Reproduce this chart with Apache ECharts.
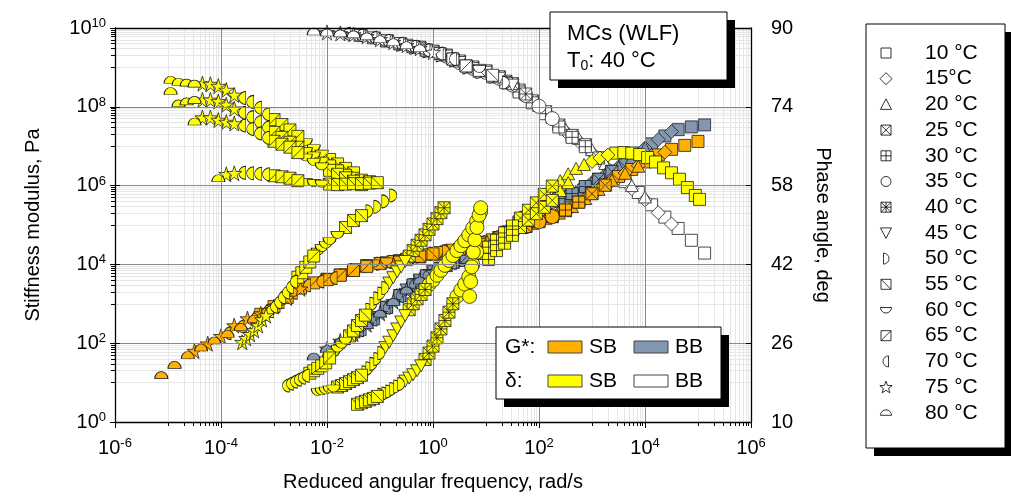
<!DOCTYPE html>
<html>
<head>
<meta charset="utf-8">
<script src="https://cdn.jsdelivr.net/npm/echarts@6/dist/echarts.min.js"></script>
<style>html,body{margin:0;padding:0;background:#fff}#c{width:1011px;height:497px}</style>
</head>
<body>
<div id="c"></div>
<script>
// ---------------- DATA ----------------
const temps = ['10 °C','15°C','20 °C','25 °C','30 °C','35 °C','40 °C','45 °C','50 °C','55 °C','60 °C','65 °C','70 °C','75 °C','80 °C'];

// measured angular frequencies of each sweep (rad/s)
const omega = [0.562, 1, 1.78, 3.16, 5.62, 10, 17.8, 31.6, 56.2];
// shift factors aT (T0 = 40 °C), one per temperature
const aT_SB = [1780, 422, 133, 31.6, 10, 3.16, 1, 0.237, 0.0562, 0.0178, 4.22e-3, 1.0e-3, 2.37e-4, 5.62e-5, 1.33e-5];
const aT_BB = [2370, 562, 178, 42.2, 13.3, 3.16, 1, 0.562, 0.422, 0.237, 0.133, 0.075, 0.0422, 0.0178, 0.01];

// |G*| of SB binder (Pa), one row per temperature, one value per omega
const gSB = [
  [631000,1.05e6,1.7e6,2.57e6,3.98e6,6.03e6,8.32e6,1.05e7,1.32e7],
  [200000,295000,470000,800000,1.35e6,2.1e6,3.2e6,4.8e6,7.0e6],
  [110000,148000,200000,295000,470000,800000,1.36e6,2.05e6,3.1e6],
  [48000,66000,93000,121000,162000,230000,380000,620000,1.02e6],
  [28500,36500,48000,66000,93000,125000,168000,240000,380000],
  [21500,24500,28500,36500,48000,65000,90000,121000,163000],
  [15500,18200,20900,24000,27500,35500,46800,64600,91200],
  [11000,12500,14500,17500,20000,23000,26500,32500,42000],
  [7200,9100,10400,11600,13400,16000,18800,21500,24500],
  [4200,5400,7200,9300,10600,11800,13500,16000,18500],
  [2000,3000,3800,4800,6500,8500,10500,11800,13200],
  [540,850,1450,2500,3400,4100,5300,7000,8900],
  [180,265,420,680,1120,1900,2950,3700,4500],
  [63,97,150,280,420,560,850,1400,2400],
  [15.5,28.2,50,78,117,174,257,417,661]
];
// |G*| of BB binder (Pa)
const gBB = [
  [1.45e6,2.29e6,3.72e6,6.61e6,1.15e7,1.82e7,2.63e7,3.09e7,3.47e7],
  [540000,760000,1.2e6,1.86e6,2.95e6,5.0e6,9.0e6,1.48e7,2.35e7],
  [285000,400000,540000,760000,1.2e6,1.85e6,2.95e6,5.0e6,9.0e6],
  [63100,117000,209000,331000,457000,617000,933000,1.45e6,2.29e6],
  [22000,37000,65000,120000,215000,340000,470000,630000,950000],
  [9600,13000,18000,27500,48000,87000,160000,280000,395000],
  [3890,6310,9330,12600,17400,26900,46800,85100,158000],
  [2250,4000,6500,9600,13000,18000,27500,48000,87000],
  [1620,3000,5100,7900,11200,15200,22000,36500,65000],
  [820,1620,3000,5100,7900,11200,15200,22000,36500],
  [380,770,1550,2900,4900,7600,10700,14500,21000],
  [220,410,810,1600,3000,5100,7900,11200,15200],
  [135,214,398,794,1580,2950,5010,7760,10960],
  [72,114,170,295,575,1150,2230,3950,6400],
  [46,71,112,166,288,562,1120,2190,3890]
];
// phase angle of BB binder (deg)
const dBB = [
  [63.6,60.9,58.8,56.6,54.1,51.6,49.3,46.9,44.3],
  [69.0,67.0,64.7,62.0,59.6,57.4,55.1,52.5,50.2],
  [74.3,71.9,69.5,67.6,65.3,62.5,60.1,58.0,55.7],
  [79.2,77.4,75.2,73.0,70.3,68.2,66.3,63.6,60.9],
  [81.2,80.1,78.9,77.0,74.8,72.6,69.9,67.8,65.9],
  [84.3,83.0,81.8,81.0,79.8,78.4,76.3,74.1,71.6],
  [86.1,85.3,84.5,83.3,82.1,81.3,80.1,78.7,76.6],
  [86.5,85.9,85.1,84.3,83.0,81.8,81.0,79.8,78.4],
  [86.6,86.0,85.3,84.5,83.4,82.0,81.1,80.1,78.9],
  [87.4,86.8,86.2,85.5,84.8,83.7,82.3,81.4,80.4],
  [88.2,87.6,87.0,86.4,85.7,85.0,83.9,82.6,81.7],
  [88.5,88.0,87.4,86.8,86.2,85.5,84.8,83.7,82.3],
  [88.8,88.5,88.0,87.4,86.8,86.2,85.5,84.8,83.7],
  [89.1,88.9,88.7,88.3,87.7,87.1,86.5,85.9,85.1],
  [89.3,89.1,88.9,88.7,88.3,87.7,87.1,86.5,85.9]
];

// phase angle of SB binder: per temperature, [reduced frequency rad/s, deg]
const dSB = [
  // 10 °C
  [[2820,64.6],[3980,64.7],[5620,64.6],[7940,64.3],[11200,63.7],[15800,62.8],[22400,61.6],[31600,60.6],[44700,59.3],[63100,57.6],[89100,56.0],[107000,55.2]],
  // 15 °C
  [[1000,62.9],[1410,63.6],[2000,64.2]],
  // 20 °C
  [[251,59.0],[355,60.4],[501,61.5],[708,62.3],[251,57.0],[355,58.6]],
  // 25 °C
  [[44.7,51.4],[63.1,53.0],[89.1,54.5],[126,56.2],[178,57.9],[44.7,49.5],[63.1,51.0],[89.1,52.3],[126,53.6],[178,55.0]],
  // 30 °C
  [[7.94,44.2],[11.2,45.5],[15.8,46.9],[22.4,48.4],[31.6,49.8],[11.2,43.0],[15.8,44.8],[22.4,46.3],[31.6,47.9]],
  // 35 °C
  [[0.8414,37.9],[1.0,38.8],[1.189,39.8],[1.41,40.8],[1.679,41.8],[2.0,42.8],[2.371,43.8],[2.82,44.8],[3.35,45.8],[3.98,46.8],[4.732,48.0],[5.62,49.4],[6.683,50.8],[7.94,52.7],
   [2.82,35.5],[3.35,36.8],[3.98,38.0],[4.732,39.5],[5.62,42.0],[6.683,44.5],
   [4.9,35.5],[5.13,38.5],[5.37,41.5],[5.75,44.5],[6.17,47.0],[6.76,49.5],[7.41,52.0],[7.94,53.5]],
  // 40 °C
  [[0.355,43.7],[0.4217,44.8],[0.501,45.9],[0.5957,46.9],[0.708,48.0],[0.8414,49.1],[1.0,50.2],[1.189,51.3],[1.41,52.5],[1.62,53.5],
   [0.355,32.8],[0.4217,34.0],[0.501,35.0],[0.5957,35.9],[0.708,36.9],
   [0.708,22.7],[0.8414,24.0],[1.0,25.4],[1.189,27.1],[1.41,28.9],[1.679,30.6],[2.0,32.3],[2.371,34.0]],
  // 45 °C
  [[0.1496,38.2],[0.178,39.3],[0.2113,40.5],[0.251,41.5],[0.2985,42.6],
   [0.126,25.1],[0.1496,26.2],[0.178,27.5],[0.2113,28.9],[0.251,30.3],[0.2985,31.6],
   [0.2985,18.3],[0.355,18.9],[0.4217,19.6],[0.501,20.4],[0.5957,21.4]],
  // 50 °C
  [[0.0631,52.8],[0.0891,53.7],[0.126,54.8],[0.178,56.0],
   [0.0631,32.8],[0.07499,34.0],[0.0891,35.1],[0.1059,36.1],[0.126,37.2],
   [0.05309,20.1],[0.0631,20.9],[0.07499,21.8],[0.0891,22.8],[0.1059,24.0],
   [0.1059,15.5],[0.126,15.8],[0.1496,16.2],[0.178,16.7],[0.2113,17.2],[0.251,17.7]],
  // 55 °C
  [[0.0112,63.3],[0.0158,62.4],[0.0224,61.5],[0.0316,60.6],
   [0.0112,62.0],[0.0158,61.0],[0.0224,60.1],[0.0316,59.5],[0.0447,59.1],[0.0631,58.8],
   [0.0112,61.1],[0.0158,60.3],[0.0224,59.6],[0.0316,58.9],[0.0447,58.2],
   [0.0112,58.3],[0.0158,58.2],[0.0224,58.3],[0.0316,58.4],[0.0447,58.4],[0.0631,58.5],[0.0891,58.6],
   [0.0224,49.5],[0.0316,50.9],[0.0447,51.9],
   [0.02661,27.5],[0.0316,28.5],[0.03758,29.6],[0.0447,30.6],[0.05309,31.7],
   [0.0158,17.1],[0.01884,17.4],[0.0224,17.8],[0.02661,18.2],[0.0316,18.6],[0.03758,19.0],[0.0447,19.5],
   [0.03758,13.6],[0.0447,13.9],[0.05309,14.2],[0.0631,14.5],[0.07499,14.8],[0.0891,15.2]],
  // 60 °C
  [[3.98e-3,66.8],[5.62e-3,65.6],[7.94e-3,64.5],
   [3.98e-3,65.0],[5.62e-3,64.1],[7.94e-3,63.0],
   [3.98e-3,63.7],[5.62e-3,62.8],[7.94e-3,61.9],
   [3.98e-3,58.7],[5.62e-3,58.5],[7.94e-3,58.4],
   [6.683e-3,44.6],[7.94e-3,45.3],[9.441e-3,46.0],[0.0112,46.7],[0.0158,48.0],
   [0.01334,24.0],[0.0158,24.9],[0.01884,25.7],[0.0224,26.5],
   [6.683e-3,16.1],[7.94e-3,16.2],[9.441e-3,16.4],[0.0112,16.6],[0.01334,16.8]],
  // 65 °C
  [[1.0e-3,71.4],[1.41e-3,70.4],[2.0e-3,69.3],[2.82e-3,68.0],
   [1.0e-3,68.8],[1.41e-3,67.8],[2.0e-3,66.8],[2.82e-3,65.8],
   [1.0e-3,67.0],[1.41e-3,66.4],[2.0e-3,65.8],[2.82e-3,64.7],
   [1.0e-3,60.0],[1.41e-3,59.8],[2.0e-3,59.5],[2.82e-3,59.0],
   [2.82e-3,39.4],[3.35e-3,40.3],[3.98e-3,41.4],[4.732e-3,42.5],[5.62e-3,43.7],
   [4.732e-3,19.9],[5.62e-3,20.4],[6.683e-3,20.9],[7.94e-3,21.4],[9.441e-3,22.0],[0.0112,23.0]],
  // 70 °C
  [[2.51e-4,75.8],[3.55e-4,75.0],[5.01e-4,73.8],[7.08e-4,72.5],
   [2.51e-4,72.8],[3.55e-4,71.9],[5.01e-4,70.9],[7.08e-4,69.8],
   [2.51e-4,70.2],[3.55e-4,69.5],[5.01e-4,68.6],[7.08e-4,67.7],
   [2.51e-4,60.6],[3.55e-4,60.5],[5.01e-4,60.4],[7.08e-4,60.3],
   [8.414e-4,32.5],[1.0e-3,33.4],[1.189e-3,34.3],[1.41e-3,35.3],[1.679e-3,36.3],[2.0e-3,37.4],[2.371e-3,38.5],
   [1.679e-3,17.4],[2.0e-3,17.8],[2.371e-3,18.2],[2.82e-3,18.6],[3.35e-3,19.0],[3.98e-3,19.4]],
  // 75 °C
  [[4.47e-5,78.7],[6.31e-5,78.6],[8.91e-5,78.2],[1.26e-4,77.4],[1.78e-4,76.4],
   [4.47e-5,75.4],[6.31e-5,75.4],[8.91e-5,75.1],[1.26e-4,74.4],[1.78e-4,73.6],
   [4.47e-5,71.8],[6.31e-5,71.8],[8.91e-5,71.3],[1.26e-4,70.9],[1.78e-4,70.6],
   [1.26e-4,60.3],[1.78e-4,60.5],
   [2.51e-4,26.2],[2.985e-4,27.0],[3.55e-4,27.8],[4.217e-4,28.6],[5.01e-4,29.6],[5.957e-4,30.8],[7.08e-4,31.6]],
  // 80 °C
  [[1.12e-5,79.5],[1.58e-5,79.1],[2.24e-5,78.9],[3.16e-5,78.7],[1.58e-5,74.7],[2.24e-5,75.1],[3.16e-5,75.4],[3.16e-5,71.0],[1.12e-5,77.2],[8.91e-5,59.5]]
];

// ---------------- STYLE ----------------
const FONT = '"Liberation Sans", Arial, sans-serif';
const COL = {gSB:'#FFB000', gBB:'#8497B0', dSB:'#FFFF00', dBB:'#FFFFFF'};
const P = {
  rect:'M0,0H10V10H0Z',
  diamond:'M5,0L10,5L5,10L0,5Z',
  triangle:'M5,0L10,10H0Z',
  sqX:'M0,0H10V10H0Z M0,0L10,10 M10,0L0,10',
  sqPlus:'M0,0H10V10H0Z M5,0V10 M0,5H10',
  circle:'M0,5A5,5,0,1,1,10,5A5,5,0,1,1,0,5Z',
  sqXPlus:'M0,0H10V10H0Z M0,0L10,10 M10,0L0,10 M5,0V10 M0,5H10',
  invTri:'M0,0H10L5,10Z',
  rightHalf:'M0,0A5,5,0,0,1,0,10Z',
  sqBack:'M0,0H10V10H0Z M0,0L10,10',
  bottomHalf:'M0,0H10A5,5,0,0,1,0,0Z',
  sqFwd:'M0,0H10V10H0Z M0,10L10,0',
  leftHalf:'M5,0A5,5,0,0,0,5,10Z',
  star:'M5,0L6.18,3.62L10,3.62L6.91,5.86L8.09,9.51L5,7.27L1.91,9.51L3.09,5.86L0,3.62L3.82,3.62Z',
  topHalf:'M0,5A5,5,0,0,1,10,5Z'
};
const symKeys = ['rect','diamond','triangle','sqX','sqPlus','circle','sqXPlus','invTri','rightHalf','sqBack','bottomHalf','sqFwd','leftHalf','star','topHalf'];
const symSize = [[12,12],[14,14],[13,12],[12,12],[12,12],[14,14],[12,12],[13,12],[7,13],[12,12],[13,7],[12,12],[7,13],[15,15],[13,7]];

const lg = v => Math.log10(v);
const series = [];
function addSeries(group, idx, data, yIdx) {
  series.push({
    type:'scatter', name: temps[idx] + ' ' + group, xAxisIndex:0, yAxisIndex:yIdx,
    data, symbol:'path://' + P[symKeys[idx]], symbolSize:symSize[idx],
    itemStyle:{color:COL[group], borderColor:'#1e1e1e', borderWidth:0.8, opacity:1},
    silent:true, animation:false, z:2
  });
}
temps.forEach((t,i)=> addSeries('dBB', i, omega.map((w,j)=>[lg(w*aT_BB[i]), dBB[i][j]]), 2));
temps.forEach((t,i)=> addSeries('gBB', i, omega.map((w,j)=>[lg(w*aT_BB[i]), lg(gBB[i][j])]), 0));
temps.forEach((t,i)=> addSeries('gSB', i, omega.map((w,j)=>[lg(w*aT_SB[i]), lg(gSB[i][j])]), 0));
temps.forEach((t,i)=> addSeries('dSB', i, dSB[i].map(p=>[lg(p[0]), p[1]]), 2));

const minorX = []; [-5,-3,-1,1,3,5].forEach(n=>{for(let k=1;k<=9;k++) minorX.push(n+Math.log10(k));});
const minorY = []; [1,3,5,7,9].forEach(n=>{for(let k=1;k<=9;k++) minorY.push(n+Math.log10(k));});

const rich = {
  b:{fontSize:20, fontFamily:FONT, color:'#000', lineHeight:22},
  s:{fontSize:13, fontFamily:FONT, color:'#000', lineHeight:12, verticalAlign:'top'}
};
const powFmt = v => '{b|10}{s|' + Math.round(v) + '}';
const MAJOR = '#8a8a8a', MINOR = '#e6e6e6';

// ---------------- GRAPHIC (legends, title box) ----------------
const graphic = [];
const LS = {fill:'#fff', stroke:'#000', lineWidth:0.8};
function legendSymbol(key, cx, cy) {
  const out = [];
  const sq = (s) => out.push({type:'rect', z:102, shape:{x:cx-s/2, y:cy-s/2, width:s, height:s}, style:LS});
  const ln = (x1,y1,x2,y2) => out.push({type:'line', z:103, shape:{x1:cx+x1,y1:cy+y1,x2:cx+x2,y2:cy+y2}, style:{stroke:'#000', lineWidth:0.8}});
  const poly = (pts) => out.push({type:'polygon', z:102, shape:{points:pts.map(p=>[cx+p[0], cy+p[1]])}, style:LS});
  const sec = (r, a0, a1, dx, dy) => out.push({type:'sector', z:102, shape:{cx:cx+dx, cy:cy+dy, r0:0, r, startAngle:a0, endAngle:a1, clockwise:true}, style:LS});
  const PI = Math.PI;
  switch (key) {
    case 'rect': sq(10); break;
    case 'diamond': poly([[0,-6],[6,0],[0,6],[-6,0]]); break;
    case 'triangle': poly([[0,-5.5],[5.5,5],[-5.5,5]]); break;
    case 'sqX': sq(10); ln(-5,-5,5,5); ln(5,-5,-5,5); break;
    case 'sqPlus': sq(10); ln(0,-5,0,5); ln(-5,0,5,0); break;
    case 'circle': out.push({type:'circle', z:102, shape:{cx, cy, r:5}, style:LS}); break;
    case 'sqXPlus': sq(10); ln(-5,-5,5,5); ln(5,-5,-5,5); ln(0,-5,0,5); ln(-5,0,5,0); break;
    case 'invTri': poly([[-5.5,-5],[5.5,-5],[0,5.5]]); break;
    case 'rightHalf': sec(5.5, -PI/2, PI/2, -2.5, 0); break;
    case 'sqBack': sq(10); ln(-5,-5,5,5); break;
    case 'bottomHalf': sec(5.5, 0, PI, 0, -2.5); break;
    case 'sqFwd': sq(10); ln(-5,5,5,-5); break;
    case 'leftHalf': sec(5.5, PI/2, 3*PI/2, 2.5, 0); break;
    case 'star': {
      const pts = [];
      for (let k=0;k<10;k++){ const r = k%2===0 ? 6.5 : 2.7; const a = -PI/2 + k*PI/5; pts.push([r*Math.cos(a), r*Math.sin(a)+0.5]); }
      poly(pts); break; }
    case 'topHalf': sec(5.5, PI, 2*PI, 0, 2.5); break;
  }
  return out;
}
// temperature legend
graphic.push({type:'rect', z:100, shape:{x:874,y:32,width:140,height:424}, style:{fill:'#000'}});
graphic.push({type:'rect', z:101, shape:{x:866,y:24,width:139,height:424}, style:{fill:'#fff', stroke:'#000', lineWidth:1}});
temps.forEach((t,i)=>{
  const cy = 53 + i*25.7;
  legendSymbol(symKeys[i], 886, cy).forEach(e=>graphic.push(e));
  graphic.push({type:'text', z:102, x:925, y:cy, style:{text:t, font:'21px ' + FONT, fill:'#000', textVerticalAlign:'middle'}});
});
// title box
graphic.push({type:'rect', z:100, shape:{x:558,y:20,width:177,height:68}, style:{fill:'#000'}});
graphic.push({type:'rect', z:101, shape:{x:550,y:12,width:177,height:68}, style:{fill:'#fff', stroke:'#000', lineWidth:1}});
graphic.push({type:'text', z:102, x:567, y:34, style:{text:'MCs (WLF)', font:'22px ' + FONT, fill:'#000', textVerticalAlign:'middle'}});
graphic.push({type:'text', z:102, x:567, y:61, style:{text:'{a|T}{s|0}{a|: 40 °C}', fill:'#000', textVerticalAlign:'middle',
  rich:{a:{fontSize:22, fontFamily:FONT, color:'#000', lineHeight:24, verticalAlign:'middle'}, s:{fontSize:14, fontFamily:FONT, color:'#000', lineHeight:12, verticalAlign:'bottom'}}}});
// group legend
graphic.push({type:'rect', z:100, shape:{x:504,y:335,width:225,height:72}, style:{fill:'#000'}});
graphic.push({type:'rect', z:101, shape:{x:496,y:327,width:225,height:72}, style:{fill:'#fff', stroke:'#000', lineWidth:1}});
const legRows = [
  {label:'G*:', y:347, items:[['SB',COL.gSB],['BB',COL.gBB]]},
  {label:'δ:', y:381, items:[['SB',COL.dSB],['BB',COL.dBB]]}
];
legRows.forEach(r=>{
  graphic.push({type:'text', z:102, x:505, y:r.y, style:{text:r.label, font:'21px ' + FONT, fill:'#000', textVerticalAlign:'middle'}});
  r.items.forEach((it,k)=>{
    const sx = 548 + k*86;
    graphic.push({type:'rect', z:102, shape:{x:sx, y:r.y-6, width:34, height:12}, style:{fill:it[1], stroke:'#444', lineWidth:1}});
    graphic.push({type:'text', z:102, x:sx+41, y:r.y, style:{text:it[0], font:'21px ' + FONT, fill:'#000', textVerticalAlign:'middle'}});
  });
});

// ---------------- CHART ----------------
const chart = echarts.init(document.getElementById('c'), null, {renderer:'canvas'});
chart.setOption({
  animation:false,
  backgroundColor:'#fff',
  grid:{left:115, right:260, top:28, bottom:74, show:false, containLabel:false},
  xAxis:[
    {type:'value', min:-6, max:6, interval:2, position:'bottom', z:3,
     name:'Reduced angular frequency, rad/s', nameLocation:'middle', nameGap:50,
     nameTextStyle:{fontSize:20, fontFamily:FONT, color:'#000'},
     axisLine:{onZero:false, lineStyle:{color:'#000', width:1.3}},
     axisTick:{inside:false, length:6, lineStyle:{color:'#000', width:1}},
     axisLabel:{formatter:powFmt, margin:15, rich},
     splitLine:{show:true, showMinLine:false, showMaxLine:false, lineStyle:{color:MAJOR, width:1}}},
    {type:'value', min:-6, max:6, position:'bottom', z:1,
     axisLine:{show:false, onZero:false},
     axisTick:{show:true, length:4, customValues:minorX, lineStyle:{color:'#000', width:1}},
     axisLabel:{show:false},
     splitLine:{show:true, lineStyle:{color:MINOR, width:1}}},
    {type:'value', min:-6, max:6, position:'top', z:3,
     axisLine:{show:true, onZero:false, lineStyle:{color:'#000', width:1.3}},
     axisTick:{show:false}, axisLabel:{show:false}, splitLine:{show:false}}
  ],
  yAxis:[
    {type:'value', min:0, max:10, interval:2, position:'left', z:3,
     name:'Stiffness modulus, Pa', nameLocation:'middle', nameGap:72,
     nameTextStyle:{fontSize:20, fontFamily:FONT, color:'#000'},
     axisLine:{onZero:false, lineStyle:{color:'#000', width:1.3}},
     axisTick:{inside:false, length:5, lineStyle:{color:'#000', width:1}},
     axisLabel:{formatter:powFmt, margin:9, rich},
     splitLine:{show:true, showMinLine:false, showMaxLine:false, lineStyle:{color:MAJOR, width:1}}},
    {type:'value', min:0, max:10, position:'left', z:1,
     axisLine:{show:false, onZero:false},
     axisTick:{show:true, length:4, customValues:minorY, lineStyle:{color:'#000', width:1}},
     axisLabel:{show:false},
     splitLine:{show:true, lineStyle:{color:MINOR, width:1}}},
    {type:'value', min:10, max:90, interval:16, position:'right', z:3,
     name:'Phase angle, deg', nameLocation:'middle', nameGap:62, nameRotate:-90,
     nameTextStyle:{fontSize:20, fontFamily:FONT, color:'#000'},
     axisLine:{onZero:false, lineStyle:{color:'#000', width:1.3}},
     axisTick:{inside:true, length:5, lineStyle:{color:'#000', width:1}},
     axisLabel:{fontSize:20, fontFamily:FONT, color:'#000', margin:20},
     splitLine:{show:false}},
    {type:'value', min:0, max:10, interval:2, position:'left', z:3,
     axisLine:{show:false, onZero:false},
     axisTick:{show:true, inside:true, length:5, lineStyle:{color:'#000', width:1}},
     axisLabel:{show:false}, splitLine:{show:false}}
  ],
  series,
  graphic:{elements:graphic}
});
</script>
</body>
</html>
